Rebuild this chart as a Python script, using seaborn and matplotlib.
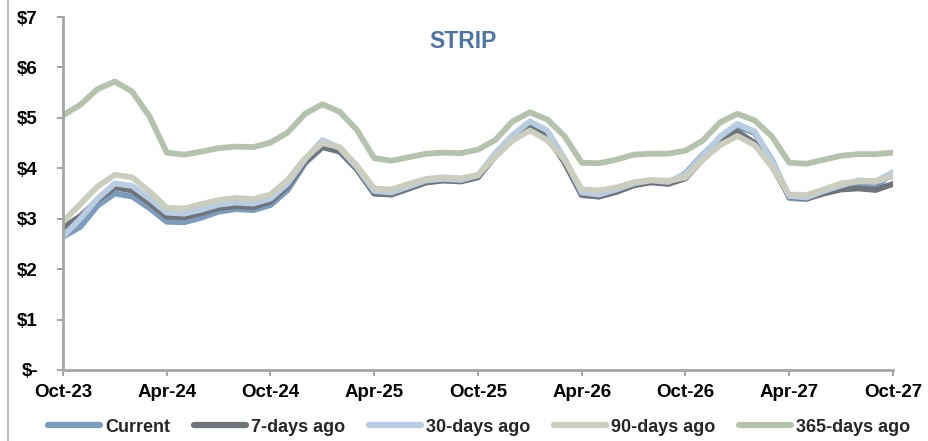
import numpy as np
import pandas as pd
import seaborn as sns
import matplotlib.pyplot as plt
from matplotlib.lines import Line2D

# monthly strip, Oct-23 .. Oct-27
months = pd.date_range("2023-10-01", "2027-10-01", freq="MS")
tick_labels = ["Oct-23", "Apr-24", "Oct-24", "Apr-25", "Oct-25",
               "Apr-26", "Oct-26", "Apr-27", "Oct-27"]

current = [2.64, 2.84, 3.26, 3.50, 3.44, 3.21, 2.94, 2.93, 3.02, 3.14, 3.19, 3.17,
           3.27, 3.57, 4.10, 4.42, 4.33, 3.98, 3.50, 3.48, 3.60, 3.72, 3.76, 3.74,
           3.84, 4.27, 4.61, 4.84, 4.66, 4.13, 3.47, 3.44, 3.54, 3.67, 3.74, 3.70,
           3.90, 4.27, 4.60, 4.83, 4.70, 4.17, 3.41, 3.39, 3.52, 3.62, 3.65, 3.62,
           3.92]
days7 = [2.82, 3.05, 3.37, 3.62, 3.56, 3.31, 3.04, 3.03, 3.11, 3.21, 3.25, 3.23,
         3.34, 3.64, 4.13, 4.42, 4.34, 3.98, 3.50, 3.48, 3.60, 3.72, 3.76, 3.74,
         3.82, 4.24, 4.58, 4.83, 4.62, 4.12, 3.47, 3.44, 3.53, 3.66, 3.72, 3.69,
         3.80, 4.18, 4.50, 4.73, 4.50, 4.05, 3.44, 3.40, 3.50, 3.58, 3.60, 3.57,
         3.69]
days30 = [2.65, 3.00, 3.40, 3.70, 3.65, 3.40, 3.12, 3.10, 3.18, 3.28, 3.32, 3.30,
          3.40, 3.70, 4.18, 4.56, 4.40, 4.02, 3.55, 3.52, 3.64, 3.76, 3.79, 3.77,
          3.86, 4.30, 4.66, 4.93, 4.75, 4.20, 3.52, 3.48, 3.58, 3.70, 3.76, 3.73,
          3.88, 4.25, 4.63, 4.88, 4.73, 4.15, 3.45, 3.42, 3.55, 3.66, 3.76, 3.74,
          3.92]
days90 = [2.94, 3.29, 3.64, 3.87, 3.82, 3.54, 3.22, 3.20, 3.29, 3.37, 3.41, 3.39,
          3.48, 3.77, 4.20, 4.50, 4.42, 4.05, 3.60, 3.58, 3.69, 3.79, 3.82, 3.80,
          3.87, 4.23, 4.55, 4.75, 4.56, 4.17, 3.58, 3.56, 3.62, 3.72, 3.77, 3.75,
          3.82, 4.17, 4.46, 4.64, 4.46, 4.03, 3.48, 3.47, 3.58, 3.70, 3.74, 3.74,
          3.84]
days365 = [5.05, 5.26, 5.57, 5.72, 5.52, 5.03, 4.31, 4.27, 4.33, 4.40, 4.43, 4.42,
           4.51, 4.71, 5.08, 5.27, 5.12, 4.76, 4.20, 4.15, 4.22, 4.29, 4.31, 4.30,
           4.37, 4.56, 4.93, 5.11, 4.97, 4.64, 4.11, 4.10, 4.17, 4.27, 4.29, 4.29,
           4.35, 4.55, 4.91, 5.08, 4.95, 4.63, 4.11, 4.09, 4.17, 4.25, 4.28, 4.28,
           4.31]

names = ["Current", "7-days ago", "30-days ago", "90-days ago", "365-days ago"]
colors = ["#7d9cbd", "#6f747b", "#b9cde2", "#cbcdbf", "#b5c3ae"]

df = pd.DataFrame({"m": np.arange(len(months)), "Current": current,
                   "7-days ago": days7, "30-days ago": days30,
                   "90-days ago": days90, "365-days ago": days365})
long_df = df.melt(id_vars="m", var_name="series", value_name="price")

sns.set_style("white")
plt.rcParams["font.family"] = ["Liberation Sans", "DejaVu Sans"]
plt.rcParams["font.weight"] = "bold"

fig = plt.figure(figsize=(9.29, 4.41), dpi=100)
ax = fig.add_axes([63 / 929, 1 - 370 / 441, 830 / 929, 353 / 441])

sns.lineplot(data=long_df, x="m", y="price", hue="series", hue_order=names,
             palette=colors, linewidth=4.2, ax=ax, legend=False)

ax.set_xlim(0, 48)
ax.set_ylim(0, 7)
ax.set_xticks(np.arange(0, 49, 6))
ax.set_xticklabels(tick_labels)
ax.set_yticks(range(8))
ax.set_yticklabels(["$-"] + [f"${v}" for v in range(1, 8)])
ax.set_xlabel("")
ax.set_ylabel("")
ax.tick_params(axis="both", labelsize=13.5, colors="#a6a6a6", labelcolor="black",
               length=4, width=1.5, direction="out")
ax.tick_params(axis="x", pad=6)
ax.tick_params(axis="y", pad=14)
for lab in ax.get_xticklabels() + ax.get_yticklabels():
    lab.set_fontweight("bold")
for s in ["top", "right"]:
    ax.spines[s].set_visible(False)
for s in ["left", "bottom"]:
    ax.spines[s].set_color("#a6a6a6")
    ax.spines[s].set_linewidth(2)
ax.tick_params(left=True, bottom=True)

fig.text(463 / 929, 1 - 42 / 441, "STRIP", color="#4f74a6", fontsize=16.5,
         fontweight="bold", ha="center", va="center")

# left frame edge of the chart box
fig.add_artist(Line2D([8 / 929, 8 / 929], [0, 1], color="#bfbfbf", lw=1.5))

handles = [Line2D([], [], color=c, lw=4.5, solid_capstyle="round") for c in colors]
fig.legend(handles, names, loc="center", bbox_to_anchor=(479 / 929, 1 - 427 / 441),
           ncol=5, frameon=False, handlelength=2.9, handletextpad=0.28,
           columnspacing=1.3, prop={"weight": "bold", "size": 13})

fig.savefig("out.png", dpi=100)
